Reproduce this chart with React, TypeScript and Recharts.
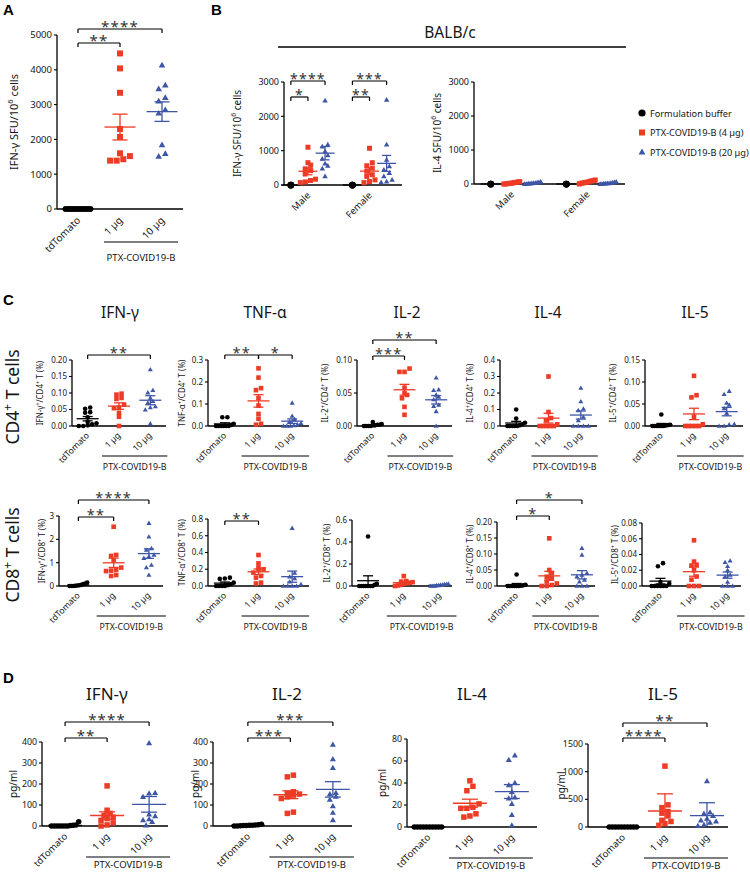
import React from 'react';
import { ScatterChart, Scatter, XAxis, YAxis, ReferenceLine } from 'recharts';

const FONT = '"Noto Sans", "Open Sans", "DejaVu Sans", sans-serif';
const TXT = '#151515';

// ---------------- Data ----------------
// Panel A
const A_LABELS = ['tdTomato', '1 µg', '10 µg'];
const A_TD = [0, 0, 0, 0, 0, 0, 0, 0, 0, 0];
const A_1UG = [4470, 4040, 3340, 2300, 2070, 1600, 1430, 1390, 1390, 1520];
const A_10UG = [4130, 3560, 3450, 3200, 3100, 2850, 2750, 1840, 1590, 1510];

// Panel B
const B_SEX = ['Male', 'Female'];
const B_IFN_M_BUF = [0, 0, 0];
const B_IFN_M_4 = [1100, 650, 580, 470, 420, 320, 170, 90, 70, 130];
const B_IFN_M_20 = [2460, 1180, 1120, 980, 860, 760, 620, 560, 480, 250];
const B_IFN_F_BUF = [0, 0, 0];
const B_IFN_F_4 = [1070, 650, 560, 490, 400, 300, 250, 150, 100, 70];
const B_IFN_F_20 = [2480, 1180, 730, 540, 440, 350, 250, 150, 100, 80];
const B_IL4_M_BUF = [0, 0, 0];
const B_IL4_M_4 = [70, 40, 20, 0, 50, 10, 30, 0, 60, 20];
const B_IL4_M_20 = [60, 30, 0, 50, 10, 40, 20, 0, 30, 10];
const B_IL4_F_BUF = [0, 0, 0];
const B_IL4_F_4 = [120, 80, 50, 20, 100, 0, 60, 30, 90, 40];
const B_IL4_F_20 = [50, 20, 0, 60, 30, 10, 40, 0, 20, 10];

// Panel C, CD4+ T cells
const C4_IFN_TD = [0.056, 0.052, 0.042, 0.04, 0.026, 0.012, 0.008, 0.005, 0.002, 0, 0];
const C4_IFN_1 = [0.098, 0.095, 0.085, 0.082, 0.065, 0.056, 0.054, 0.04, 0.028, 0];
const C4_IFN_10 = [0.171, 0.108, 0.101, 0.085, 0.075, 0.07, 0.059, 0.056, 0.049, 0.007];
const C4_TNF_TD = [0.04, 0.04, 0.01, 0.005, 0, 0, 0, 0, 0, 0];
const C4_TNF_1 = [0.262, 0.22, 0.172, 0.163, 0.127, 0.093, 0.055, 0.033, 0.01, 0.006];
const C4_TNF_10 = [0.105, 0.045, 0.03, 0.02, 0.012, 0.006, 0, 0, 0, 0.002];
const C4_IL2_TD = [0.006, 0.003, 0.002, 0.001, 0, 0, 0, 0, 0.002, 0.001];
const C4_IL2_1 = [0.087, 0.082, 0.082, 0.058, 0.05, 0.047, 0.042, 0.029, 0.017];
const C4_IL2_10 = [0.073, 0.055, 0.054, 0.047, 0.044, 0.04, 0.032, 0.03, 0.022, 0];
const C4_IL4_TD = [0.1, 0.045, 0.02, 0.01, 0.005, 0, 0, 0, 0, 0];
const C4_IL4_1 = [0.3, 0.085, 0.048, 0.035, 0.01, 0, 0, 0, 0, 0];
const C4_IL4_10 = [0.23, 0.148, 0.104, 0.094, 0.054, 0.034, 0, 0, 0, 0];
const C4_IL5_TD = [0.026, 0.003, 0.002, 0.001, 0, 0, 0, 0, 0, 0];
const C4_IL5_1 = [0.114, 0.07, 0.065, 0.021, 0.004, 0, 0, 0, 0, 0];
const C4_IL5_10 = [0.079, 0.072, 0.052, 0.048, 0.04, 0.029, 0.004, 0.003, 0, 0];

// Panel C, CD8+ T cells
const C8_IFN_TD = [0.15, 0.1, 0.08, 0.05, 0.03, 0.02, 0.01, 0, 0, 0];
const C8_IFN_1 = [2.54, 1.29, 1.33, 1.11, 0.79, 0.69, 0.66, 0.47, 0.43, 0.64];
const C8_IFN_10 = [2.69, 2.11, 1.61, 1.54, 1.33, 1.26, 1.19, 0.9, 0.79, 0.47];
const C8_TNF_TD = [0.1, 0.09, 0.085, 0.04, 0.02, 0.01, 0, 0, 0, 0];
const C8_TNF_1 = [0.37, 0.27, 0.22, 0.2, 0.19, 0.16, 0.12, 0.1, 0.04, 0.03];
const C8_TNF_10 = [0.69, 0.155, 0.11, 0.09, 0.05, 0.02, 0, 0, 0, 0];
const C8_IL2_TD = [0.45, 0.02, 0.01, 0, 0, 0, 0, 0, 0, 0];
const C8_IL2_1 = [0.09, 0.045, 0.04, 0.035, 0.03, 0.025, 0.02, 0.01, 0.005, 0];
const C8_IL2_10 = [0.02, 0.015, 0.015, 0.01, 0.01, 0.005, 0.005, 0, 0, 0];
const C8_IL4_TD = [0.036, 0.004, 0.002, 0.001, 0, 0, 0, 0, 0, 0];
const C8_IL4_1 = [0.149, 0.05, 0.04, 0.029, 0.024, 0.014, 0.008, 0.003, 0, 0];
const C8_IL4_10 = [0.118, 0.097, 0.04, 0.034, 0.029, 0.019, 0.013, 0, 0, 0];
const C8_IL5_TD = [0.029, 0.025, 0.005, 0.003, 0, 0, 0, 0, 0, 0];
const C8_IL5_1 = [0.058, 0.031, 0.027, 0.026, 0.02, 0.012, 0.008, 0, 0, 0];
const C8_IL5_10 = [0.032, 0.03, 0.025, 0.02, 0.014, 0.012, 0.005, 0, 0, 0];

// Panel D (pg/ml)
const D_IFN_TD = [20, 5, 3, 2, 0, 0, 0, 0, 0, 0, 0];
const D_IFN_1 = [191, 75, 60, 50, 42, 35, 27, 15, 5, 0];
const D_IFN_10 = [395, 158, 155, 139, 55, 47, 32, 28, 20, 3];
const D_IL2_TD = [8, 6, 5, 4, 3, 2, 2, 1, 0, 0];
const D_IL2_1 = [242, 234, 163, 155, 152, 147, 139, 131, 60, 66];
const D_IL2_10 = [387, 318, 277, 158, 152, 140, 126, 95, 63, 28];
const D_IL4_TD = [0, 0, 0, 0, 0, 0, 0, 0, 0, 0];
const D_IL4_1 = [42, 37, 33, 21, 18, 17, 17, 12, 10, 9];
const D_IL4_10 = [65, 61, 40, 38, 32, 27, 26, 21, 11, 1.5];
const D_IL5_TD = [0, 0, 0, 0, 0, 0, 0, 0, 0, 0];
const D_IL5_1 = [1100, 400, 350, 280, 250, 200, 120, 100, 60, 30];
const D_IL5_10 = [830, 265, 240, 200, 150, 120, 100, 80, 40, 20];

const LEGEND = ['Formulation buffer', 'PTX-COVID19-B (4 µg)', 'PTX-COVID19-B (20 µg)'];

// ---------------- Styles ----------------
const SERIES = [
  { color: '#000000', shape: 'circle' },
  { color: '#EE3B26', shape: 'square' },
  { color: '#3D56A6', shape: 'triangle' },
];

const grp = (x: number, values: number[], s: number, extra: any = {}) => ({ x, values, s, ...extra });

function rich(text: string, fs: number) {
  const parts = text.split('^');
  const out: any[] = [];
  let shift = 0;
  parts.forEach((p, i) => {
    if (!p) return;
    const sup = i % 2 === 1;
    const target = sup ? -fs * 0.42 : 0;
    const dy = target - shift;
    shift = target;
    out.push(
      <tspan key={i} dy={dy} fontSize={sup ? fs * 0.68 : fs}>
        {p}
      </tspan>
    );
  });
  return out;
}

function spreadOffsets(values: number[], vpp: number, markerPx: number, maxHalf: number) {
  const idx = values.map((_, i) => i).sort((a, b) => values[a] - values[b]);
  const rows: number[][] = [];
  let cur: number[] = [];
  let base = 0;
  idx.forEach((i) => {
    const py = values[i] / vpp;
    if (cur.length && py - base < markerPx * 0.85) cur.push(i);
    else {
      if (cur.length) rows.push(cur);
      cur = [i];
      base = py;
    }
  });
  if (cur.length) rows.push(cur);
  const off = values.map(() => 0);
  rows.forEach((r) => {
    const n = r.length;
    if (n < 2) return;
    let step = markerPx * 1.1;
    if ((n - 1) * step > 2 * maxHalf) step = (2 * maxHalf) / (n - 1);
    r.forEach((i, k) => {
      off[i] = (k - (n - 1) / 2) * step;
    });
  });
  return off;
}

const makeShape = (shape: string, color: string, size: number) => (props: any) => {
  const { cx, cy } = props;
  if (cx == null || cy == null) return <g />;
  if (shape === 'circle') return <circle cx={cx} cy={cy} r={size / 2} fill={color} />;
  if (shape === 'square')
    return <rect x={cx - size / 2} y={cy - size / 2} width={size} height={size} fill={color} />;
  const w = size * 1.1;
  const h = size * 0.95;
  return (
    <polygon
      points={`${cx},${cy - h * 0.6} ${cx - w / 2},${cy + h * 0.4} ${cx + w / 2},${cy + h * 0.4}`}
      fill={color}
    />
  );
};

// ---------------- Chart specs ----------------
const baseA = {
  tickFs: 9.5, xTickFs: 10, yLabelFs: 11, marker: 6, meanHalf: 15.5, capHalf: 7.5,
  xTickDx: 3, xTickDy: 7, starFs: 15, ul: { dy: 33, textDy: 52, fs: 9.5, ext: 16 },
};
const baseB = {
  tickFs: 9, xTickFs: 9.5, yLabelFs: 10, marker: 5, circleScale: 1.35, meanHalf: 9.5, capHalf: 4.5,
  xTickDx: 3, xTickDy: 6, starFs: 14,
};
const baseC = {
  tickFs: 8, xTickFs: 8.6, yLabelFs: 8, marker: 4.6, meanHalf: 11, capHalf: 5,
  xTickDx: 2, xTickDy: 5, starFs: 14.5, ul: { dy: 30, textDy: 44, fs: 8.8, ext: 17 },
};
const baseD = {
  tickFs: 8.8, xTickFs: 9.5, yLabelFs: 10, marker: 5.5, meanHalf: 17, capHalf: 8,
  xTickDx: 3, xTickDy: 6, starFs: 15, ul: { dy: 31, textDy: 42, fs: 9.5, ext: 21 },
};

const C_ROW1 = { top: 360, bottom: 426 };

const SPECS: any[] = [
  // A
  {
    ...baseA, left: 57, right: 183, top: 35, bottom: 209, xDomain: [-0.5, 2.5],
    yMax: 5000, yTicks: [0, 1000, 2000, 3000, 4000, 5000], dec: 0,
    yLabel: 'IFN-γ SFU/10^6^ cells', yLabelX: 14, xTicks: [0, 1, 2], xLabels: A_LABELS,
    groups: [grp(0, A_TD, 0), grp(1, A_1UG, 1), grp(2, A_10UG, 2)],
    brackets: [{ x1: 0, x2: 1, y: 43, label: '**' }, { x1: 0, x2: 2, y: 29, label: '****' }],
  },
  // B left
  {
    ...baseB, left: 284, right: 402, top: 82, bottom: 185, xDomain: [-0.4, 6.5],
    yMax: 3000, yTicks: [0, 1000, 2000, 3000], dec: 0,
    yLabel: 'IFN-γ SFU/10^6^ cells', yLabelX: 237, xTicks: [1, 4.6], xLabels: B_SEX,
    groups: [
      grp(0, B_IFN_M_BUF, 0, { spread: 0 }), grp(1, B_IFN_M_4, 1), grp(2, B_IFN_M_20, 2),
      grp(3.6, B_IFN_F_BUF, 0, { spread: 0 }), grp(4.6, B_IFN_F_4, 1), grp(5.6, B_IFN_F_20, 2),
    ],
    brackets: [
      { x1: 0, x2: 2, y: 81, label: '****' }, { x1: 0, x2: 1, y: 97, label: '*' },
      { x1: 3.6, x2: 5.6, y: 81, label: '***' }, { x1: 3.6, x2: 4.6, y: 97, label: '**' },
    ],
  },
  // B right
  {
    ...baseB, meanHalf: 10, left: 474, right: 625, top: 82, bottom: 184, xDomain: [-0.8, 6.4],
    yMax: 3000, yTicks: [0, 1000, 2000, 3000], dec: 0,
    yLabel: 'IL-4 SFU/10^6^ cells', yLabelX: 437, xTicks: [1, 4.6], xLabels: B_SEX,
    groups: [
      grp(0, B_IL4_M_BUF, 0, { spread: 0 }), grp(1, B_IL4_M_4, 1), grp(2, B_IL4_M_20, 2),
      grp(3.6, B_IL4_F_BUF, 0, { spread: 0 }), grp(4.6, B_IL4_F_4, 1), grp(5.6, B_IL4_F_20, 2),
    ],
  },
  // C row 1 (CD4)
  {
    ...baseC, ...C_ROW1, left: 72, right: 166, xDomain: [-0.5, 2.5],
    yMax: 0.2, yTicks: [0, 0.05, 0.1, 0.15, 0.2], dec: 2,
    yLabel: 'IFN-γ^+^/CD4^+^ T (%)', yLabelX: 40, xTicks: [0, 1, 2], xLabels: A_LABELS,
    groups: [grp(0, C4_IFN_TD, 0), grp(1, C4_IFN_1, 1), grp(2, C4_IFN_10, 2)],
    brackets: [{ x1: 0, x2: 2, y: 355, label: '**' }],
  },
  {
    ...baseC, ...C_ROW1, left: 208, right: 309, xDomain: [-0.5, 2.5],
    yMax: 0.3, yTicks: [0, 0.1, 0.2, 0.3], dec: 1,
    yLabel: 'TNF-α^+^/CD4^+^ T (%)', yLabelX: 182, xTicks: [0, 1, 2], xLabels: A_LABELS,
    groups: [grp(0, C4_TNF_TD, 0), grp(1, C4_TNF_1, 1), grp(2, C4_TNF_10, 2)],
    brackets: [{ x1: 0, x2: 1, y: 355, label: '**' }, { x1: 1, x2: 2, y: 355, label: '*' }],
  },
  {
    ...baseC, ...C_ROW1, left: 357, right: 452, xDomain: [-0.5, 2.5],
    yMax: 0.1, yTicks: [0, 0.05, 0.1], dec: 2,
    yLabel: 'IL-2^+^/CD4^+^ T (%)', yLabelX: 325, xTicks: [0, 1, 2], xLabels: A_LABELS,
    groups: [grp(0, C4_IL2_TD, 0), grp(1, C4_IL2_1, 1), grp(2, C4_IL2_10, 2)],
    brackets: [{ x1: 0, x2: 1, y: 356, label: '***' }, { x1: 0, x2: 2, y: 340, label: '**' }],
  },
  {
    ...baseC, ...C_ROW1, left: 500, right: 597, xDomain: [-0.5, 2.5],
    yMax: 0.4, yTicks: [0, 0.1, 0.2, 0.3, 0.4], dec: 1,
    yLabel: 'IL-4^+^/CD4^+^ T (%)', yLabelX: 470, xTicks: [0, 1, 2], xLabels: A_LABELS,
    groups: [grp(0, C4_IL4_TD, 0), grp(1, C4_IL4_1, 1), grp(2, C4_IL4_10, 2)],
  },
  {
    ...baseC, ...C_ROW1, left: 645, right: 743, xDomain: [-0.5, 2.5],
    yMax: 0.15, yTicks: [0, 0.05, 0.1, 0.15], dec: 2,
    yLabel: 'IL-5^+^/CD4^+^ T (%)', yLabelX: 613, xTicks: [0, 1, 2], xLabels: A_LABELS,
    groups: [grp(0, C4_IL5_TD, 0), grp(1, C4_IL5_1, 1), grp(2, C4_IL5_10, 2)],
  },
  // C row 2 (CD8)
  {
    ...baseC, left: 59, right: 163, top: 516, bottom: 586, xDomain: [-0.55, 2.4],
    yMax: 3, yTicks: [0, 1, 2, 3], dec: 0,
    yLabel: 'IFN-γ^+^/CD8^+^ T (%)', yLabelX: 42, xTicks: [0, 1, 2], xLabels: A_LABELS,
    groups: [grp(0, C8_IFN_TD, 0), grp(1, C8_IFN_1, 1), grp(2, C8_IFN_10, 2)],
    brackets: [{ x1: 0, x2: 1, y: 517, label: '**' }, { x1: 0, x2: 2, y: 500, label: '****' }],
  },
  {
    ...baseC, left: 208, right: 309, top: 519, bottom: 586, xDomain: [-0.5, 2.5],
    yMax: 0.8, yTicks: [0, 0.2, 0.4, 0.6, 0.8], dec: 1,
    yLabel: 'TNF-α^+^/CD8^+^ T (%)', yLabelX: 182, xTicks: [0, 1, 2], xLabels: A_LABELS,
    groups: [grp(0, C8_TNF_TD, 0), grp(1, C8_TNF_1, 1), grp(2, C8_TNF_10, 2)],
    brackets: [{ x1: 0, x2: 1, y: 521, label: '**' }],
  },
  {
    ...baseC, left: 352, right: 452, top: 520, bottom: 586, xDomain: [-0.45, 2.35],
    yMax: 0.6, yTicks: [0, 0.2, 0.4, 0.6], dec: 1,
    yLabel: 'IL-2^+^/CD8^+^ T (%)', yLabelX: 327, xTicks: [0, 1, 2], xLabels: A_LABELS,
    groups: [grp(0, C8_IL2_TD, 0), grp(1, C8_IL2_1, 1), grp(2, C8_IL2_10, 2)],
  },
  {
    ...baseC, left: 497, right: 595, top: 522, bottom: 586, xDomain: [-0.6, 2.4],
    yMax: 0.2, yTicks: [0, 0.05, 0.1, 0.15, 0.2], dec: 2,
    yLabel: 'IL-4^+^/CD8^+^ T (%)', yLabelX: 470, xTicks: [0, 1, 2], xLabels: A_LABELS,
    groups: [grp(0, C8_IL4_TD, 0), grp(1, C8_IL4_1, 1), grp(2, C8_IL4_10, 2)],
    brackets: [{ x1: 0, x2: 1, y: 516, label: '*' }, { x1: 0, x2: 2, y: 500, label: '*' }],
  },
  {
    ...baseC, left: 642, right: 741, top: 523, bottom: 586, xDomain: [-0.55, 2.4],
    yMax: 0.08, yTicks: [0, 0.02, 0.04, 0.06, 0.08], dec: 2,
    yLabel: 'IL-5^+^/CD8^+^ T (%)', yLabelX: 615, xTicks: [0, 1, 2], xLabels: A_LABELS,
    groups: [grp(0, C8_IL5_TD, 0), grp(1, C8_IL5_1, 1), grp(2, C8_IL5_10, 2)],
  },
  // D
  {
    ...baseD, left: 42, right: 168, top: 742, bottom: 826, xDomain: [-0.55, 2.45],
    yMax: 400, yTicks: [0, 100, 200, 300, 400], dec: 0,
    yLabel: 'pg/ml', yLabelX: 13, xTicks: [0, 1, 2], xLabels: A_LABELS,
    groups: [grp(0, D_IFN_TD, 0), grp(1, D_IFN_1, 1), grp(2, D_IFN_10, 2)],
    brackets: [{ x1: 0, x2: 1, y: 738, label: '**' }, { x1: 0, x2: 2, y: 722, label: '****' }],
  },
  {
    ...baseD, left: 213, right: 352, top: 742, bottom: 826, xDomain: [-0.82, 2.45],
    yMax: 400, yTicks: [0, 100, 200, 300, 400], dec: 0,
    yLabel: 'pg/ml', yLabelX: 195, xTicks: [0, 1, 2], xLabels: A_LABELS,
    groups: [grp(0, D_IL2_TD, 0), grp(1, D_IL2_1, 1), grp(2, D_IL2_10, 2)],
    brackets: [{ x1: 0, x2: 1, y: 738, label: '***' }, { x1: 0, x2: 2, y: 722, label: '***' }],
  },
  {
    ...baseD, left: 407, right: 537, top: 739, bottom: 827, xDomain: [-0.5, 2.6],
    yMax: 80, yTicks: [0, 20, 40, 60, 80], dec: 0,
    yLabel: 'pg/ml', yLabelX: 382, xTicks: [0, 1, 2], xLabels: A_LABELS,
    groups: [grp(0, D_IL4_TD, 0), grp(1, D_IL4_1, 1), grp(2, D_IL4_10, 2)],
  },
  {
    ...baseD, left: 588, right: 728, top: 744, bottom: 827, xDomain: [-0.83, 2.5],
    yMax: 1500, yTicks: [0, 500, 1000, 1500], dec: 0,
    yLabel: 'pg/ml', yLabelX: 561, xTicks: [0, 1, 2], xLabels: A_LABELS,
    groups: [grp(0, D_IL5_TD, 0), grp(1, D_IL5_1, 1, { sd: true }), grp(2, D_IL5_10, 2, { sd: true })],
    brackets: [{ x1: 0, x2: 1, y: 738, label: '****' }, { x1: 0, x2: 2, y: 723, label: '**' }],
  },
];

// ---------------- Chart component ----------------
function DotPlot({ s }: { s: any }) {
  const padL = 62, padR = 16, padT = 52, padB = 62;
  const plotW = s.right - s.left;
  const plotH = s.bottom - s.top;
  const W = padL + plotW + padR;
  const H = padT + plotH + padB;
  const svgLeft = s.left - padL;
  const svgTop = s.top - padT;
  const d0 = s.xDomain[0];
  const d1 = s.xDomain[1];
  const unitPx = plotW / (d1 - d0);
  const vpp = s.yMax / plotH;
  const u = (px: number) => px / unitPx;
  const valAt = (pageY: number) => (s.bottom - pageY) * vpp;
  const sx = (xv: number) => padL + (xv - d0) * unitPx;
  const sy = (pageY: number) => pageY - svgTop;
  const stroke = 1.3;

  const scatters = s.groups.map((g: any, gi: number) => {
    const ser = SERIES[g.s];
    const size = ser.shape === 'circle' ? s.marker * (s.circleScale ?? 1) : s.marker;
    const maxHalf = g.spread ?? s.meanHalf * 0.8;
    const offs = spreadOffsets(g.values, vpp, s.marker, maxHalf);
    const pts = g.values.map((v: number, i: number) => ({ x: g.x + u(offs[i]), y: v }));
    return (
      <Scatter
        key={'sc' + gi}
        data={pts}
        shape={makeShape(ser.shape, ser.color, size)}
        isAnimationActive={false}
      />
    );
  });

  const refs: any[] = [];
  s.groups.forEach((g: any, gi: number) => {
    const n = g.values.length;
    const m = g.values.reduce((a: number, b: number) => a + b, 0) / n;
    const sd = Math.sqrt(g.values.reduce((a: number, b: number) => a + (b - m) * (b - m), 0) / (n - 1));
    const e = g.sd ? sd : sd / Math.sqrt(n);
    const col = SERIES[g.s].color;
    const mh = u(s.meanHalf);
    const ch = u(s.capHalf);
    refs.push(
      <ReferenceLine key={`m${gi}`} segment={[{ x: g.x - mh, y: m }, { x: g.x + mh, y: m }]}
        stroke={col} strokeWidth={stroke} ifOverflow="visible" />
    );
    if (e > 0) {
      const lo = Math.max(0, m - e);
      const hi = m + e;
      refs.push(
        <ReferenceLine key={`v${gi}`} segment={[{ x: g.x, y: lo }, { x: g.x, y: hi }]}
          stroke={col} strokeWidth={stroke} ifOverflow="visible" />
      );
      refs.push(
        <ReferenceLine key={`h${gi}`} segment={[{ x: g.x - ch, y: hi }, { x: g.x + ch, y: hi }]}
          stroke={col} strokeWidth={stroke} ifOverflow="visible" />
      );
      if (lo > 0)
        refs.push(
          <ReferenceLine key={`l${gi}`} segment={[{ x: g.x - ch, y: lo }, { x: g.x + ch, y: lo }]}
            stroke={col} strokeWidth={stroke} ifOverflow="visible" />
        );
    }
  });

  (s.brackets || []).forEach((b: any, bi: number) => {
    const yb = valAt(b.y);
    const yd = valAt(b.y + 4);
    const cx = (sx(b.x1) + sx(b.x2)) / 2;
    const ty = sy(b.y) + 2.5;
    refs.push(
      <ReferenceLine key={`b${bi}`} segment={[{ x: b.x1, y: yb }, { x: b.x2, y: yb }]}
        stroke="#000" strokeWidth={1.2} ifOverflow="visible"
        label={() => (
          <text x={cx} y={ty} textAnchor="middle" fontSize={s.starFs} fontFamily={FONT}
            letterSpacing={1.2} fill="#333">{b.label}</text>
        )} />
    );
    refs.push(
      <ReferenceLine key={`bl${bi}`} segment={[{ x: b.x1, y: yb }, { x: b.x1, y: yd }]}
        stroke="#000" strokeWidth={1.2} ifOverflow="visible" />
    );
    refs.push(
      <ReferenceLine key={`br${bi}`} segment={[{ x: b.x2, y: yb }, { x: b.x2, y: yd }]}
        stroke="#000" strokeWidth={1.2} ifOverflow="visible" />
    );
  });

  if (s.ul) {
    const yU = valAt(s.bottom + s.ul.dy);
    const xa = 1 - u(s.ul.ext);
    const xb = 2 + u(s.ul.ext);
    const cx = (sx(xa) + sx(xb)) / 2;
    const ty = sy(s.bottom + s.ul.textDy);
    refs.push(
      <ReferenceLine key="ul" segment={[{ x: xa, y: yU }, { x: xb, y: yU }]}
        stroke="#000" strokeWidth={1.2} ifOverflow="visible"
        label={() => (
          <text x={cx} y={ty} textAnchor="middle" fontSize={s.ul.fs} fontFamily={FONT} fill={TXT}>
            PTX-COVID19-B
          </text>
        )} />
    );
  }

  const XTick = (props: any) => {
    const { x, y, payload } = props;
    const i = s.xTicks.indexOf(payload.value);
    const lab = i >= 0 ? s.xLabels[i] : '';
    const ax = x + s.xTickDx;
    const ay = y + s.xTickDy;
    return (
      <text x={ax} y={ay} transform={`rotate(-45 ${ax} ${ay})`} textAnchor="end"
        fontSize={s.xTickFs} fontFamily={FONT} fill={TXT}>{lab}</text>
    );
  };

  const lx = s.yLabelX - svgLeft + s.yLabelFs * 0.36;
  const ly = padT + plotH / 2;
  const YLabel = () => (
    <text x={lx} y={ly} transform={`rotate(-90 ${lx} ${ly})`} textAnchor="middle"
      fontSize={s.yLabelFs} fontFamily={FONT} fill={TXT}>{rich(s.yLabel, s.yLabelFs)}</text>
  );

  return (
    <div style={{ position: 'absolute', left: svgLeft, top: svgTop, width: W, height: H }}>
      <ScatterChart width={W} height={H} margin={{ top: padT, right: padR, bottom: 0, left: 0 }}>
        <XAxis type="number" dataKey="x" domain={[d0, d1]} ticks={s.xTicks} interval={0}
          height={padB} tick={<XTick />} tickLine={false} tickSize={3}
          axisLine={{ stroke: '#000', strokeWidth: stroke }} />
        <YAxis type="number" dataKey="y" domain={[0, s.yMax]} ticks={s.yTicks} interval={0}
          width={padL} tickSize={3} tickMargin={2}
          tickFormatter={(v: number) => v.toFixed(s.dec)}
          tick={{ fontSize: s.tickFs, fill: TXT, fontFamily: FONT }}
          tickLine={{ stroke: '#000', strokeWidth: 1.1 }}
          axisLine={{ stroke: '#000', strokeWidth: stroke }}
          label={YLabel} />
        {scatters}
        {refs}
      </ScatterChart>
    </div>
  );
}

// ---------------- Overlay (panel letters, titles, legend) ----------------
function Overlay() {
  const letter = { fontFamily: '"Liberation Sans", Arial, sans-serif', fontWeight: 700, fontSize: 15, fill: '#000' };
  const title = { fontFamily: FONT, fill: TXT, textAnchor: 'middle' as const };
  const cTitles = [
    { t: 'IFN-γ', x: 120 }, { t: 'TNF-α', x: 265 }, { t: 'IL-2', x: 407 },
    { t: 'IL-4', x: 548 }, { t: 'IL-5', x: 695 },
  ];
  const dTitles = [
    { t: 'IFN-γ', x: 107 }, { t: 'IL-2', x: 287 }, { t: 'IL-4', x: 472 }, { t: 'IL-5', x: 663 },
  ];
  const lgY = [113, 132.5, 152];
  return (
    <svg width={750} height={872} style={{ position: 'absolute', left: 0, top: 0, pointerEvents: 'none' }}>
      <text x={3} y={15} {...letter}>A</text>
      <text x={211} y={15} {...letter}>B</text>
      <text x={3} y={305} {...letter}>C</text>
      <text x={3} y={683} {...letter}>D</text>

      <text x={450} y={38} fontSize={15.5} {...title}>BALB/c</text>
      <line x1={278} x2={626} y1={47} y2={47} stroke="#000" strokeWidth={1.3} />

      {cTitles.map((c) => (
        <text key={'c' + c.t} x={c.x} y={318} fontSize={15.5} {...title}>{c.t}</text>
      ))}
      {dTitles.map((c) => (
        <text key={'d' + c.t} x={c.x} y={700} fontSize={17} {...title}>{c.t}</text>
      ))}

      <text x={19} y={397} transform="rotate(-90 19 397)" fontSize={17.5} {...title}>
        {rich('CD4^+^ T cells', 17.5)}
      </text>
      <text x={19} y={555} transform="rotate(-90 19 555)" fontSize={17.5} {...title}>
        {rich('CD8^+^ T cells', 17.5)}
      </text>

      <circle cx={642} cy={lgY[0]} r={3.6} fill={SERIES[0].color} />
      <rect x={639} y={lgY[1] - 3} width={6} height={6} fill={SERIES[1].color} />
      <polygon points={`642,${lgY[2] - 3.6} 638.6,${lgY[2] + 2.4} 645.4,${lgY[2] + 2.4}`} fill={SERIES[2].color} />
      {LEGEND.map((t, i) => (
        <text key={t} x={650} y={lgY[i] + 3.5} fontSize={9.2} fontFamily={FONT} fill={TXT}>{t}</text>
      ))}
    </svg>
  );
}

export default function App() {
  return (
    <div style={{ position: 'absolute', left: 0, top: 0, width: 750, height: 872, background: '#fff', overflow: 'hidden', fontFamily: FONT }}>
      {SPECS.map((s, i) => (
        <DotPlot key={i} s={s} />
      ))}
      <Overlay />
    </div>
  );
}
